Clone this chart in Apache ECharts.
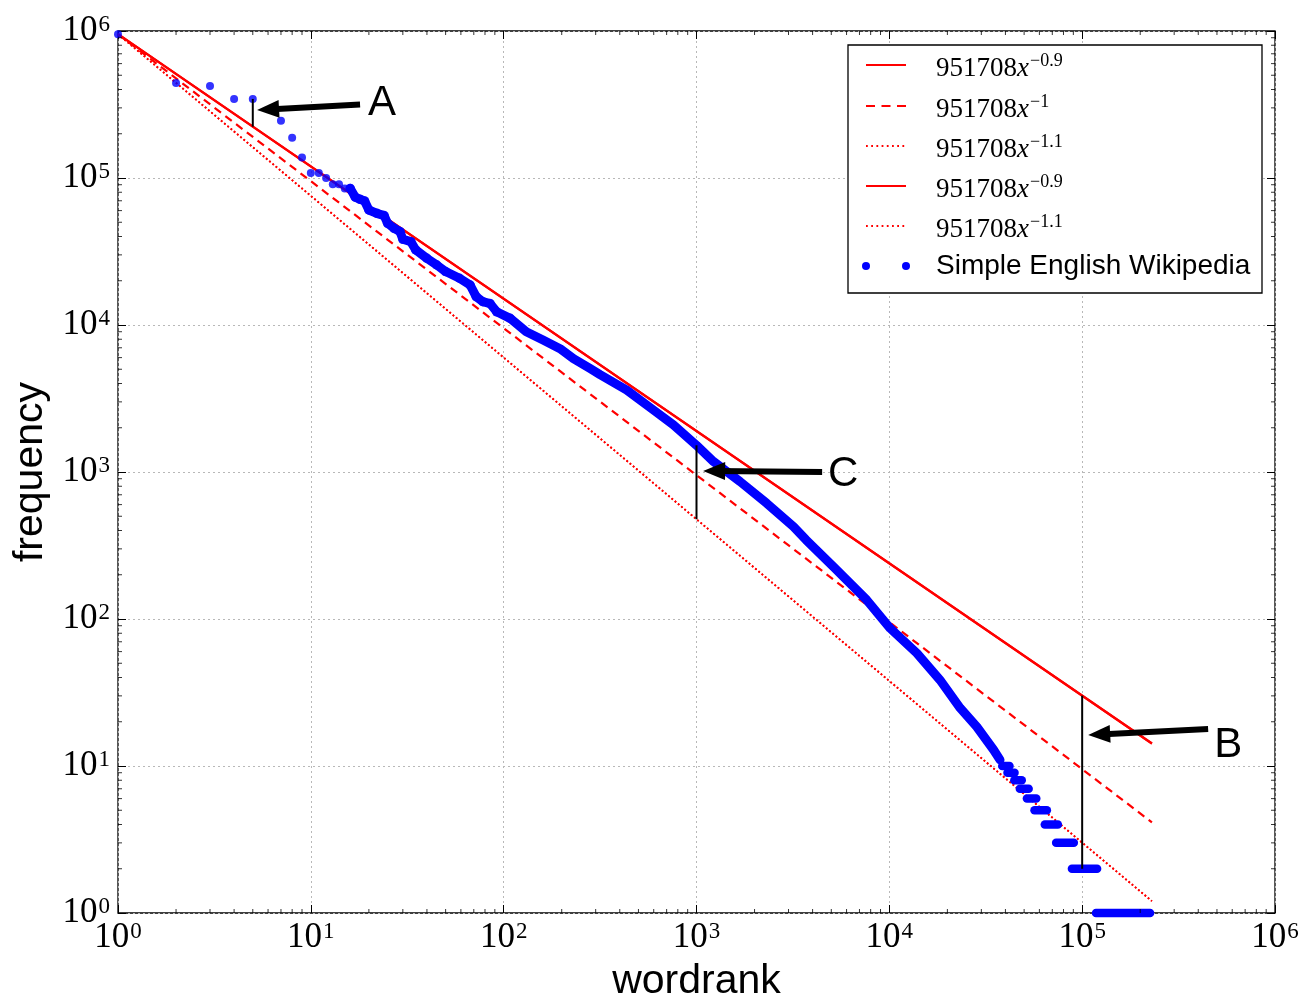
<!DOCTYPE html>
<html>
<head>
<meta charset="utf-8">
<title>Zipf plot – Simple English Wikipedia</title>
<script src="https://cdn.jsdelivr.net/npm/echarts@6/dist/echarts.min.js"></script>
<style>
  html, body { margin: 0; padding: 0; background: #fff; }
  #chart { width: 1304px; height: 1002px; }
</style>
</head>
<body>
<div id="chart"></div>
<script>
// ---- power-law fits: COEF * x^(-exponent) ----
const COEF = 951708;
const fitExponents = [0.9, 1, 1.1, 0.9, 1.1];
const fitDash = ['solid', 'dashed', 'dotted', 'solid', 'dotted'];
const fitRankMax = 230000;

// ---- word frequencies by rank ----
// top ranks, drawn as separate dots
const headRanks = [1, 2, 3, 4, 5, 7, 8, 9, 10, 11, 12, 13, 14, 15, 16];
const headFreqs = [951708, 443000, 423000, 345000, 345000, 245000, 188000, 138000,
                   108000, 108000, 100000, 90600, 90600, 85000, 85000];

// middle ranks, so dense that the dots merge into a band
const bodyRanks = [16, 17, 18, 19, 20, 22, 24, 25, 27, 29, 30, 33, 35, 40, 45, 50,
                   59, 67, 72, 78, 85, 92, 108, 131, 160, 196, 230, 280, 316, 435,
                   598, 759, 1000, 1223, 1683, 2313, 3183, 3702, 5130, 7640, 10100,
                   13900, 18300, 23300, 28400, 34700, 37500];
const bodyFreqs = [85000, 74000, 71600, 69800, 60600, 57500, 55500, 49200, 45500,
                   43200, 38300, 36900, 32400, 28400, 25600, 23100, 20800, 18700,
                   15600, 14400, 14000, 12300, 11100, 9000, 7900, 6900, 5900, 5070,
                   4600, 3610, 2640, 2090, 1520, 1180, 860, 612, 425, 345, 227, 134.6,
                   86.5, 58.5, 38.5, 24.8, 18.5, 12.9, 11];

// rare words: runs of ranks sharing the same small count
const tailFreqs     = [10, 9, 8, 7, 6, 5, 4, 3, 2, 1];
const tailFirstRank = [38500, 41000, 44500, 47500, 51700, 56600, 64000, 73300, 88500, 118000];
const tailLastRank  = [42000, 44600, 48600, 52800, 57800, 65600, 74800, 90500, 119500, 225000];

// ---- axis tick labels (powers of ten) ----
const tickPowers = ['0', '1', '2', '3', '4', '5', '6'];

// ---- annotations A, C, B ----
const noteLetters   = ['A', 'C', 'B'];
const noteRanks     = [5, 1000, 100000];
const noteLetterPos = [[23.4, 323700], [5757, 969], [572000, 13.9]];
const noteArrowTail = [[18.0, 316000], [4482, 1000], [450000, 17.85]];
const noteArrowHead = [[6.0, 292600], [1234, 1016], [122500, 16.4]];

const fit = (e, x) => COEF * Math.pow(x, -e);
const freqAt = (r) => {
  const i = headRanks.indexOf(r);
  if (i >= 0) return headFreqs[i];
  const j = bodyRanks.indexOf(r);
  if (j >= 0) return bodyFreqs[j];
  const k = tailFirstRank.findIndex((a, n) => r >= a && r <= tailLastRank[n]);
  return k >= 0 ? tailFreqs[k] : NaN;
};
// vertical bars: A from the dot down to the x^-0.9 fit,
// C from the data down to the x^-1.1 fit, B from the x^-0.9 fit down to the data
const noteSpans = [
  [noteRanks[0], freqAt(noteRanks[0]), fit(0.9, noteRanks[0])],
  [noteRanks[1], freqAt(noteRanks[1]), fit(1.1, noteRanks[1])],
  [noteRanks[2], fit(0.9, noteRanks[2]), 2]
];

// minor tick positions 2..9 x 10^n
const minorVals = [];
for (let n = 0; n < 6; n++) for (let k = 2; k <= 9; k++) minorVals.push(k * Math.pow(10, n));

const RED = '#ff0000';
const BLUE = '#0000ff';
const SERIF = '"Liberation Serif", "DejaVu Serif", serif';
const SANS = '"Liberation Sans", Arial, Helvetica, sans-serif';

const X_MIN = Math.pow(10, +tickPowers[0]);
const X_MAX = Math.pow(10, +tickPowers[tickPowers.length - 1]);

const powLabel = (v) => {
  const e = Math.round(Math.log10(v));
  return '{b|10}{s|' + tickPowers[e] + '}';
};
const powRich = {
  b: { fontFamily: SERIF, fontSize: 35, color: '#000', lineHeight: 36, verticalAlign: 'top' },
  s: { fontFamily: SERIF, fontSize: 23, color: '#000', lineHeight: 22, verticalAlign: 'top', padding: [0, 0, 0, 1] }
};

const logAxis = (extra) => Object.assign({
  type: 'log', logBase: 10, min: X_MIN, max: X_MAX,
  axisLine: { show: false },
  axisTick: { show: true, inside: true, length: 8, lineStyle: { color: '#000', width: 1 } },
  minorTick: { show: false },
  splitLine: { show: false }
}, extra);

const xAxes = [
  logAxis({
    position: 'bottom',
    name: 'wordrank', nameLocation: 'middle', nameGap: 48,
    nameTextStyle: { fontFamily: SANS, fontSize: 41, color: '#000' },
    axisLabel: { show: true, margin: 7, formatter: powLabel, rich: powRich,
                 showMinLabel: true, showMaxLabel: true, hideOverlap: false },
    splitLine: { show: true, lineStyle: { color: '#b8b8b8', width: 1, type: [2, 3] } }
  }),
  logAxis({ position: 'top', axisLabel: { show: false } })
];
const yAxes = [
  logAxis({
    position: 'left', min: 1, max: 1e6,
    name: 'frequency', nameLocation: 'middle', nameGap: 54, nameRotate: 90,
    nameTextStyle: { fontFamily: SANS, fontSize: 41, color: '#000' },
    axisLabel: { show: true, margin: 8, formatter: powLabel, rich: powRich,
                 showMinLabel: true, showMaxLabel: true, hideOverlap: false },
    splitLine: { show: true, lineStyle: { color: '#b8b8b8', width: 1, type: [2, 3] } }
  }),
  logAxis({ position: 'right', min: 1, max: 1e6, axisLabel: { show: false } })
];

const series = [];

// fitted power laws
fitExponents.forEach((e, i) => {
  const style = fitDash[i];
  series.push({
    type: 'line', name: 'fit' + i, silent: true, symbol: 'none', z: 2,
    data: [[1, fit(e, 1)], [fitRankMax, fit(e, fitRankMax)]],
    lineStyle: {
      color: RED,
      width: style === 'dotted' ? 1.8 : 2.2,
      type: style === 'solid' ? 'solid' : (style === 'dashed' ? [8, 5.5] : [1.8, 2.4])
    }
  });
});

// the data
series.push({
  type: 'line', name: 'Simple English Wikipedia', silent: true, symbol: 'none', z: 3,
  data: bodyRanks.map((r, i) => [r, bodyFreqs[i]]),
  lineStyle: { color: BLUE, width: 9, cap: 'round', join: 'round' }
});
series.push({
  type: 'scatter', name: 'Simple English Wikipedia', silent: true, z: 3,
  symbol: 'circle', symbolSize: 8,
  data: headRanks.map((r, i) => [r, headFreqs[i]]),
  itemStyle: { color: BLUE }
});
series.push({
  type: 'scatter', name: 'Simple English Wikipedia', silent: true, z: 3,
  symbol: 'circle', symbolSize: 9.5,
  data: bodyRanks.filter(r => r < 120).map(r => [r, bodyFreqs[bodyRanks.indexOf(r)]]),
  itemStyle: { color: BLUE }
});
series.push({
  type: 'custom', name: 'Simple English Wikipedia', silent: true, z: 3,
  encode: { x: [1, 2], y: 0 },
  data: tailFreqs.map((f, i) => [f, tailFirstRank[i], tailLastRank[i]]),
  renderItem: (params, api) => {
    const f = api.value(0);
    const p1 = api.coord([api.value(1), f]);
    const p2 = api.coord([api.value(2), f]);
    return {
      type: 'line',
      shape: { x1: p1[0], y1: p1[1], x2: p2[0], y2: p2[1] },
      style: { stroke: BLUE, lineWidth: 8.5, lineCap: 'round' }
    };
  }
});

// annotations
series.push({
  type: 'custom', name: 'notes', silent: true, z: 5,
  encode: { x: 0, y: [1, 2] },
  data: noteSpans,
  renderItem: (params, api) => {
    const p1 = api.coord([api.value(0), api.value(1)]);
    const p2 = api.coord([api.value(0), api.value(2)]);
    return {
      type: 'line',
      shape: { x1: p1[0], y1: p1[1], x2: p2[0], y2: p2[1] },
      style: { stroke: '#000', lineWidth: 2 }
    };
  },
  markLine: {
    silent: true, animation: false,
    symbol: ['none', 'triangle'],
    label: { show: false },
    emphasis: { disabled: true },
    lineStyle: { color: '#000', width: 6, type: 'solid' },
    data: noteLetters.map((_, i) => [
      { coord: noteArrowTail[i], symbol: 'none' },
      { coord: noteArrowHead[i], symbol: 'triangle', symbolSize: [18, 22] }
    ])
  },
  markPoint: {
    silent: true, animation: false,
    symbol: 'circle', symbolSize: 1,
    itemStyle: { color: 'rgba(0,0,0,0)' },
    label: { show: true, position: 'inside', formatter: '{b}',
             fontFamily: SANS, fontSize: 42, color: '#000' },
    data: noteLetters.map((t, i) => ({ name: t, coord: noteLetterPos[i] }))
  }
});

// minor ticks on all four sides
const minorTick = (data, size, offset) => ({
  type: 'scatter', silent: true, clip: false, z: 4,
  symbol: 'rect', symbolSize: size, symbolOffset: offset,
  itemStyle: { color: '#000' }, data
});
series.push(minorTick(minorVals.map(v => [v, 1]), [1, 4], [0, -2]));
series.push(minorTick(minorVals.map(v => [v, 1e6]), [1, 4], [0, 2]));
series.push(minorTick(minorVals.map(v => [1, v]), [4, 1], [2, 0]));
series.push(minorTick(minorVals.map(v => [1e6, v]), [4, 1], [-2, 0]));

// legend box
const legendRows = [65, 106, 146, 186, 226, 266];
const LX0 = 866, LX1 = 906, LTX = 936;
const graphic = [{
  type: 'rect', z: 100, silent: true,
  shape: { x: 848, y: 45, width: 414, height: 248 },
  style: { fill: '#fff', stroke: '#000', lineWidth: 1.3 }
}];
fitExponents.forEach((e, i) => {
  const style = fitDash[i];
  graphic.push({
    type: 'line', z: 101, silent: true,
    shape: { x1: LX0, y1: legendRows[i], x2: LX1, y2: legendRows[i] },
    style: {
      stroke: RED, lineWidth: style === 'dotted' ? 1.8 : 2.2,
      lineDash: style === 'solid' ? null : (style === 'dashed' ? [9, 6.5] : [1.8, 3.4])
    }
  });
  graphic.push({
    type: 'text', z: 101, silent: true, x: LTX, y: legendRows[i] + 2,
    style: {
      text: '{n|' + COEF + '}{v|x}{s|\u2212' + e + '}',
      verticalAlign: 'middle', align: 'left',
      rich: {
        n: { fontFamily: SERIF, fontSize: 27, color: '#000', lineHeight: 30, verticalAlign: 'bottom' },
        v: { fontFamily: SERIF, fontSize: 27, fontStyle: 'italic', color: '#000', lineHeight: 30, verticalAlign: 'bottom' },
        s: { fontFamily: SERIF, fontSize: 18, color: '#000', lineHeight: 18, verticalAlign: 'top', padding: [0, 0, 0, 1] }
      }
    }
  });
});
const lastRow = legendRows[legendRows.length - 1];
[LX0, LX1].forEach(cx => graphic.push({
  type: 'circle', z: 101, silent: true,
  shape: { cx, cy: lastRow, r: 4 }, style: { fill: BLUE }
}));
graphic.push({
  type: 'text', z: 101, silent: true, x: LTX, y: lastRow,
  style: { text: 'Simple English Wikipedia', fontFamily: SANS, fontSize: 28,
           fill: '#000', verticalAlign: 'middle', align: 'left' }
});

const chart = echarts.init(document.getElementById('chart'), null, { renderer: 'canvas' });
chart.setOption({
  backgroundColor: '#fff',
  animation: false,
  grid: { left: 118, right: 29, top: 31, bottom: 89, show: true,
          outerBoundsMode: 'none', containLabel: false,
          borderColor: '#000', borderWidth: 1.3, backgroundColor: 'transparent' },
  xAxis: xAxes,
  yAxis: yAxes,
  series,
  graphic
});
</script>
</body>
</html>
